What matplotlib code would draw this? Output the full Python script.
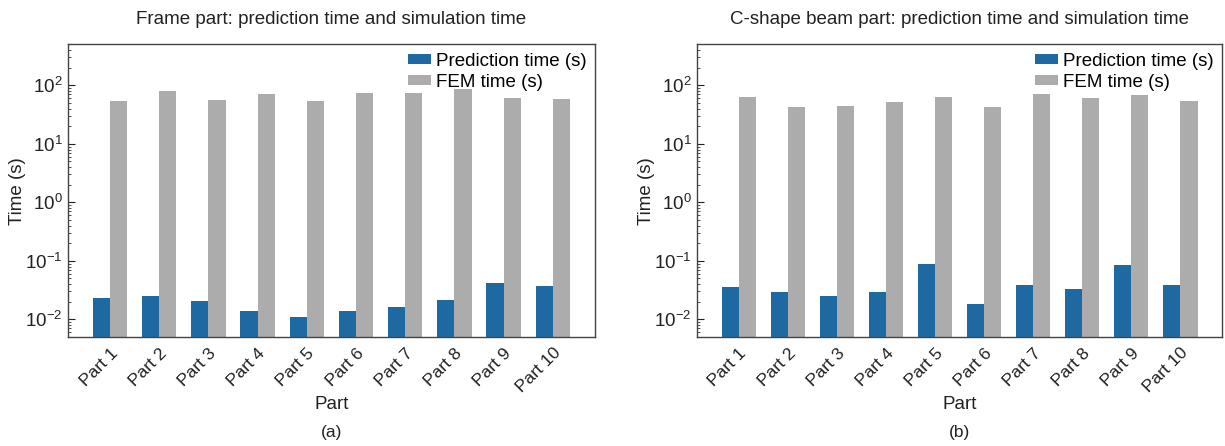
import numpy as np
import matplotlib
matplotlib.use("Agg")
import matplotlib.pyplot as plt

plt.rcParams['font.family'] = ['Liberation Sans', 'DejaVu Sans']
plt.rcParams['mathtext.fontset'] = 'custom'
plt.rcParams['mathtext.rm'] = 'Liberation Sans'
plt.rcParams['mathtext.it'] = 'Liberation Sans'
plt.rcParams['mathtext.default'] = 'regular'

parts = ['Part 1', 'Part 2', 'Part 3', 'Part 4', 'Part 5',
         'Part 6', 'Part 7', 'Part 8', 'Part 9', 'Part 10']

# frame part
frame_pred = [0.0235, 0.0254, 0.0208, 0.0141, 0.0112,
              0.0141, 0.0160, 0.0217, 0.0415, 0.0375]
frame_fem = [53, 80, 57, 71, 54, 73, 73, 85, 61, 59]

# c-shape beam part
beam_pred = [0.0357, 0.0297, 0.0254, 0.0290, 0.0883,
             0.0180, 0.0390, 0.0326, 0.0838, 0.0380]
beam_fem = [62, 43, 44, 51, 63, 43, 72, 61, 69, 55]

titles = ['Frame part: prediction time and simulation time',
          'C-shape beam part: prediction time and simulation time']
tags = ['(a)', '(b)']

blue = '#1f69a3'
grey = '#acacac'
w = 0.35

fig = plt.figure(figsize=(12.25, 4.46), dpi=100)
ax1 = fig.add_axes([0.0555, 0.2444, 0.430, 0.656])
ax2 = fig.add_axes([0.569, 0.2444, 0.4286, 0.656])

for ax, pred, fem, title, tag in zip([ax1, ax2], [frame_pred, beam_pred],
                                     [frame_fem, beam_fem], titles, tags):
    x = np.arange(len(parts))
    ax.bar(x - w / 2, pred, w, color=blue, label='Prediction time (s)')
    ax.bar(x + w / 2, fem, w, color=grey, label='FEM time (s)')
    ax.set_yscale('log')
    ax.set_ylim(0.005, 500)
    ax.set_xlim(-0.85, 9.85)
    ax.set_xticks(x)
    ax.set_xticklabels(parts, rotation=45, ha='right', rotation_mode='anchor')
    ax.tick_params(axis='x', length=0, pad=6, labelsize=12.5, colors='#222222')
    ax.tick_params(axis='y', which='major', direction='in', length=5,
                   labelsize=13.5, colors='#222222', left=True, right=False, pad=4)
    ax.tick_params(axis='y', which='minor', direction='in', length=2.5,
                   left=True, right=False, colors='#333333')
    for s in ax.spines.values():
        s.set_color('#444444')
        s.set_linewidth(1.0)
    ax.set_ylabel('Time (s)', fontsize=13.5, color='#222222')
    ax.yaxis.set_label_coords(-0.08, 0.5)
    ax.set_xlabel('Part', fontsize=13.5, color='#222222', labelpad=0)
    ax.set_title(title, fontsize=13.5, pad=15, color='#222222')
    ax.legend(loc='upper right', frameon=False, fontsize=13.5,
              handlelength=1.25, handleheight=0.4, handletextpad=0.25,
              borderaxespad=0.15, borderpad=0.3, labelspacing=0.2)
    ax.text(0.5, -0.328, tag, transform=ax.transAxes, ha='center', va='center',
            fontsize=12.5, color='#222222')

fig.savefig('out.png', dpi=100)
